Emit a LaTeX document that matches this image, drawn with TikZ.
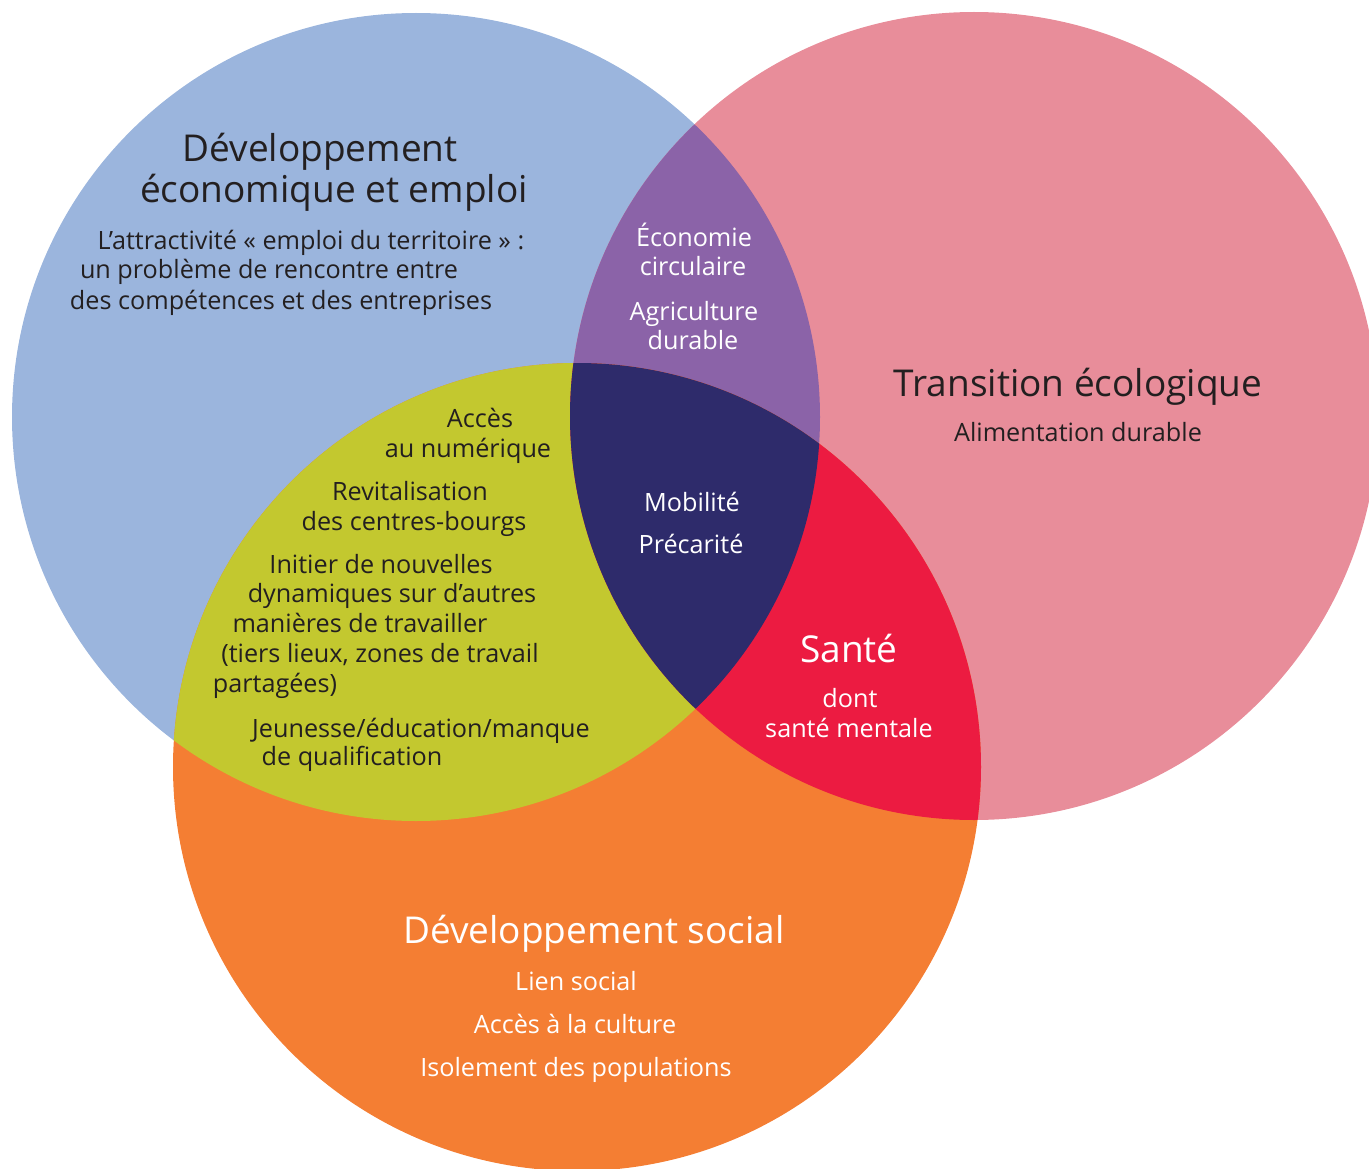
\documentclass[tikz,border=0pt]{standalone}
\usepackage{fontspec}
\setmainfont{Open Sans}
\definecolor{cblue}{HTML}{9BB5DD}
\definecolor{cpink}{HTML}{E88D9A}
\definecolor{cpurple}{HTML}{8B63A8}
\definecolor{cnavy}{HTML}{2E2B6B}
\definecolor{cyellow}{HTML}{C3C82F}
\definecolor{corange}{HTML}{F47E33}
\definecolor{cred}{HTML}{EC1B41}
\definecolor{cdark}{HTML}{231F20}
\begin{document}
\begin{tikzpicture}[x=1pt,y=-1pt,
  ttl/.style={anchor=base,inner sep=0pt,font=\fontsize{37}{40}\selectfont},
  bdy/.style={anchor=base,inner sep=0pt,font=\fontsize{25.2}{28}\selectfont},
  dk/.style={text=cdark},
  wt/.style={text=white}]
\useasboundingbox (0,0) rectangle (1369,1169);
\def\cB{(416,417) circle[radius=404pt]}
\def\cP{(974,416) circle[radius=404pt]}
\def\cO{(577,767) circle[radius=404pt]}
\fill[cblue] \cB;
\fill[cpink] \cP;
\fill[corange] \cO;
\begin{scope}\clip \cB; \fill[cpurple] \cP; \end{scope}
\begin{scope}\clip \cB; \fill[cyellow] \cO; \end{scope}
\begin{scope}\clip \cP; \fill[cred] \cO; \end{scope}
\begin{scope}\clip \cB; \clip \cP; \fill[cnavy] \cO; \end{scope}
% blue
\node[ttl,dk] (b1) at (320,162) {Développement};
\node[ttl,dk] (b2) at (334,203) {économique et emploi};
\node[bdy,dk] (b3) at (311,250) {L’attractivité « emploi du territoire » :};
\node[bdy,dk] (b4) at (269,279) {un problème de rencontre entre};
\node[bdy,dk] (b5) at (281,309) {des compétences et des entreprises};
% purple
\node[bdy,wt] (p1) at (694,247) {Économie};
\node[bdy,wt] (p2) at (693,276) {circulaire};
\node[bdy,wt] (p3) at (694,320) {Agriculture};
\node[bdy,wt] (p4) at (693,349) {durable};
% navy
\node[bdy,wt] (n1) at (692,511) {Mobilité};
\node[bdy,wt] (n2) at (691,553) {Précarité};
% pink
\node[ttl,dk] (k1) at (1078,396) {Transition écologique};
\node[bdy,dk] (k2) at (1078,441) {Alimentation durable};
% red
\node[ttl,wt] (r1) at (849,662) {Santé};
\node[bdy,wt] (r2) at (850,707) {dont};
\node[bdy,wt] (r3) at (849,737) {santé mentale};
% yellow
\node[bdy,dk] (y1) at (480,427) {Accès};
\node[bdy,dk] (y2) at (468,457) {au numérique};
\node[bdy,dk] (y3) at (410,500) {Revitalisation};
\node[bdy,dk] (y4) at (414,530) {des centres-bourgs};
\node[bdy,dk] (y5) at (381,573) {Initier de nouvelles};
\node[bdy,dk] (y6) at (392,602) {dynamiques sur d’autres};
\node[bdy,dk] (y7) at (360,632) {manières de travailler};
\node[bdy,dk] (y8) at (380,662) {(tiers lieux, zones de travail};
\node[bdy,dk] (y9) at (275,692) {partagées)};
\node[bdy,dk] (y10) at (421,737) {Jeunesse/éducation/manque};
\node[bdy,dk] (y11) at (352,765) {de qualification};
% orange
\node[ttl,wt] (o1) at (594,943) {Développement social};
\node[bdy,wt] (o2) at (576,990) {Lien social};
\node[bdy,wt] (o3) at (575,1033) {Accès à la culture};
\node[bdy,wt] (o4) at (576,1076) {Isolement des populations};
\end{tikzpicture}
\end{document}
